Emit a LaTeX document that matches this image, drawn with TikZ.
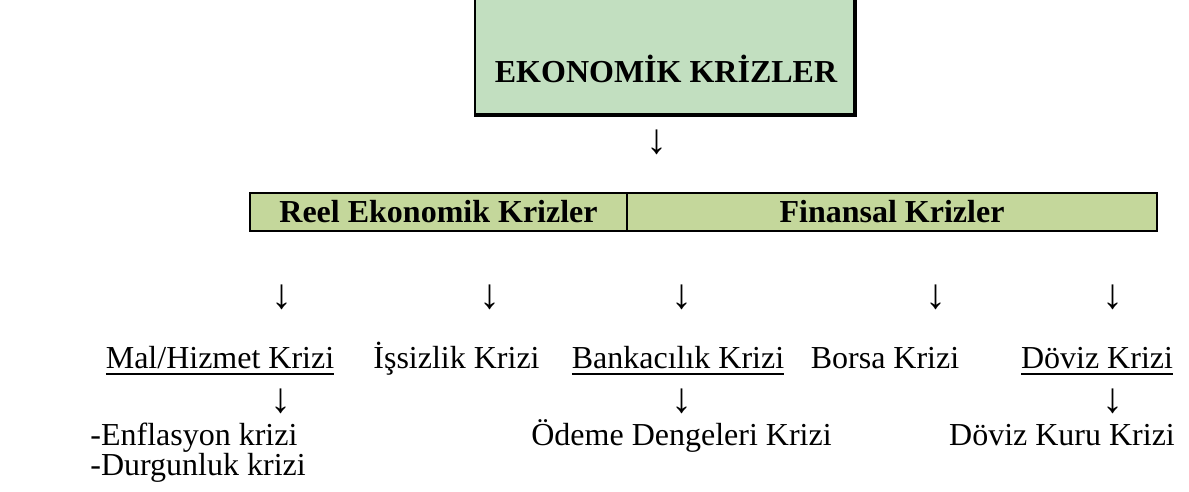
\documentclass[tikz,border=0pt]{standalone}
\usepackage{fontspec}
\setmainfont{Liberation Serif}
\usepackage{tikz}
\definecolor{topgreen}{RGB}{194,223,192}
\definecolor{rowgreen}{RGB}{196,215,155}
\newcommand{\ulin}[1]{\setbox0\hbox{#1}\rlap{\rule[-3.4pt]{\wd0}{0.9pt}}\box0}

\begin{document}
\begin{tikzpicture}[x=0.5pt, y=-0.5pt, inner sep=0pt, font=\fontsize{16}{19}\selectfont,
    hdr/.style={draw, line width=1pt, fill=rowgreen, minimum height=19pt, font=\fontsize{16}{19}\selectfont\bfseries},
    arr/.style={font=\fontsize{21}{25}\selectfont}]
    \useasboundingbox (0,0) rectangle (1189,492);
    % Top box
    \fill[topgreen] (475,-10) rectangle (855,115);
    \draw[line width=1pt] (475,-10) -- (475,115);
    \draw[line width=2.25pt] (855,-10) -- (855,115) -- (474,115);
    \node[anchor=base, font=\fontsize{16}{19}\selectfont\bfseries] (ekonomik) at (666,83) {EKONOMİK KRİZLER};
    \node[arr] (a0) at (657,142) {↓};
    % Types
    \node[hdr, minimum width=188.5pt] (reel) at (438.5,212) {Reel Ekonomik Krizler};
    \node[hdr, minimum width=265pt] (finansal) at (892,212) {Finansal Krizler};
    \foreach \x [count=\i] in {282,490,682,936,1113} {
            \node[arr] (b\i) at (\x,297) {↓};
        }
    % Crises
    \node[anchor=base] (mal) at (220,368) {\ulin{Mal/Hizmet Krizi}};
    \node[anchor=base] (issizlik) at (456.5,368) {İşsizlik Krizi};
    \node[anchor=base] (bankacilik) at (678,368) {\ulin{Bankacılık Krizi}};
    \node[anchor=base] (borsa) at (885,368) {Borsa Krizi};
    \node[anchor=base] (doviz) at (1097,368) {\ulin{Döviz Krizi}};
    \foreach \x [count=\i] in {281,682,1113} {
            \node[arr] (c\i) at (\x,401) {↓};
        }
    \node[anchor=base west] (enflasyon) at (90,445) {-Enflasyon krizi};
    \node[anchor=base west] (durgunluk) at (90,475) {-Durgunluk krizi};
    \node[anchor=base] (odeme) at (681.5,445) {Ödeme Dengeleri Krizi};
    \node[anchor=base] (kur) at (1062,445) {Döviz Kuru Krizi};
\end{tikzpicture}
\end{document}
